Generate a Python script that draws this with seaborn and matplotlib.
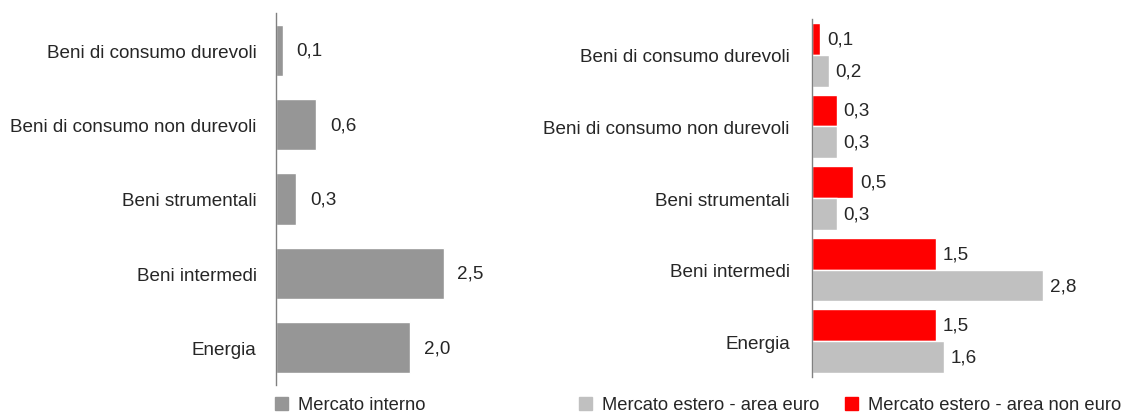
import matplotlib
matplotlib.use("Agg")
import matplotlib.pyplot as plt
from matplotlib.patches import Patch
import pandas as pd
import seaborn as sns

categories = ["Beni di consumo durevoli", "Beni di consumo non durevoli",
              "Beni strumentali", "Beni intermedi", "Energia"]
interno = [0.1, 0.6, 0.3, 2.5, 2.0]
estero_euro = [0.2, 0.3, 0.3, 2.8, 1.6]
estero_non_euro = [0.1, 0.3, 0.5, 1.5, 1.5]

lbl_interno = "Mercato interno"
lbl_euro = "Mercato estero - area euro"
lbl_non_euro = "Mercato estero - area non euro"

c_interno = "#969696"
c_euro = "#c0c0c0"
c_non_euro = "#ff0000"

sns.set_theme(style="white")
plt.rcParams["font.family"] = ["Liberation Sans Narrow", "Liberation Sans", "DejaVu Sans"]
FS = 13.6
FS_LEG = 13.2


def fmt(v):
    return f"{v:.1f}".replace(".", ",")


def style_axis(ax, pad):
    sns.despine(ax=ax, top=True, right=True, bottom=True)
    ax.spines["left"].set_color("#808080")
    ax.spines["left"].set_linewidth(1.0)
    ax.set_xticks([])
    ax.set_xlabel("")
    ax.set_ylabel("")
    ax.tick_params(axis="y", length=0, pad=pad, labelsize=FS)
    ax.set_ylim(4.5, -0.5)


fig = plt.figure(figsize=(11.3, 4.14), dpi=100)

# left panel: mercato interno
ax1 = fig.add_axes([276 / 1130, 1 - 386 / 414, 201 / 1130, 372 / 414])
df_int = pd.DataFrame({"cat": categories, "val": interno})
sns.barplot(data=df_int, x="val", y="cat", color=c_interno, saturation=1,
            width=0.69, orient="h", ax=ax1)
ax1.set_xlim(0, 3.0)
style_axis(ax1, 14)
for cont in ax1.containers:
    ax1.bar_label(cont, labels=[fmt(v) for v in interno], padding=10, fontsize=FS)

# right panel: mercato estero
ax2 = fig.add_axes([812 / 1130, 1 - 378 / 414, 289 / 1130, 358 / 414])
df_est = pd.DataFrame({
    "cat": categories * 2,
    "val": estero_non_euro + estero_euro,
    "serie": [lbl_non_euro] * len(categories) + [lbl_euro] * len(categories),
})
sns.barplot(data=df_est, x="val", y="cat", hue="serie",
            hue_order=[lbl_non_euro, lbl_euro],
            palette=[c_non_euro, c_euro], saturation=1, width=0.89,
            orient="h", legend=False, ax=ax2)
ax2.set_xlim(0, 3.5)
style_axis(ax2, 16)
for cont, vals in zip(ax2.containers, [estero_non_euro, estero_euro]):
    ax2.bar_label(cont, labels=[fmt(v) for v in vals], padding=5, fontsize=FS)

# legends
fig.legend(handles=[Patch(color=c_interno, label=lbl_interno)],
           loc="center left", bbox_to_anchor=(275 / 1130, 1 - 406 / 414),
           frameon=False, fontsize=FS_LEG, handlelength=0.7, handleheight=0.7,
           handletextpad=0.55, borderpad=0, borderaxespad=0)
fig.legend(handles=[Patch(color=c_euro, label=lbl_euro),
                    Patch(color=c_non_euro, label=lbl_non_euro)],
           loc="center left", bbox_to_anchor=(579 / 1130, 1 - 406 / 414),
           ncol=2, frameon=False, fontsize=FS_LEG, handlelength=0.7,
           handleheight=0.7, handletextpad=0.55, columnspacing=1.4,
           borderpad=0, borderaxespad=0)

fig.savefig("out.png", dpi=100)
